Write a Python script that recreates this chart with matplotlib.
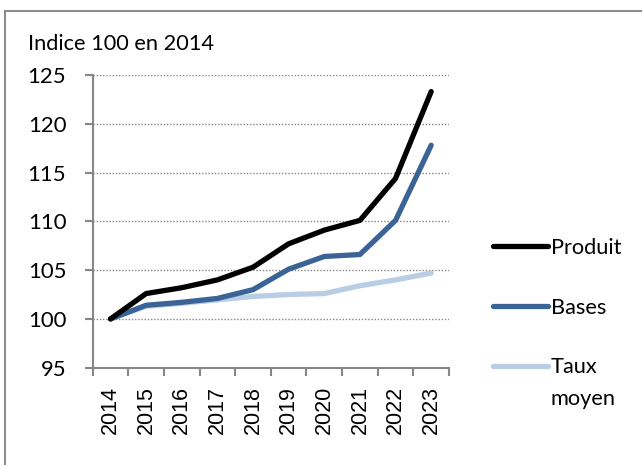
import matplotlib
matplotlib.use('Agg')
import matplotlib.pyplot as plt
from matplotlib.patches import Rectangle

# données (indice 100 en 2014)
annees = ['2014', '2015', '2016', '2017', '2018', '2019', '2020', '2021', '2022', '2023']
produit = [100, 102.6, 103.2, 104.0, 105.3, 107.7, 109.1, 110.1, 114.4, 123.3]
bases = [100, 101.4, 101.7, 102.1, 103.0, 105.1, 106.4, 106.6, 110.1, 117.8]
taux_moyen = [100, 101.3, 101.6, 101.95, 102.3, 102.5, 102.6, 103.4, 104.0, 104.7]
yticks = [95, 100, 105, 110, 115, 120, 125]

W, H = 642, 465
fig = plt.figure(figsize=(W / 100, H / 100), dpi=100)
fig.patch.set_facecolor('white')

# cadre gris (haut et gauche visibles)
fig.add_artist(Rectangle((4.5 / W, -0.2), 1.2, 1.2 - 11.5 / H,
                         transform=fig.transFigure, fill=False,
                         edgecolor='#8c8c8c', linewidth=1.5))

ax = fig.add_axes([92.7 / W, (H - 367.7) / H, (449 - 92.7) / W, (367.7 - 75) / H])

x = list(range(len(annees)))
grey = '#868686'
ax.plot(x, produit, color='black', linewidth=3.8, solid_capstyle='round',
        solid_joinstyle='round', label='Produit', zorder=5)
ax.plot(x, bases, color='#3b6496', linewidth=3.8, solid_capstyle='round',
        solid_joinstyle='round', label='Bases', zorder=4)
ax.plot(x, taux_moyen, color='#b9cde5', linewidth=3.8, solid_capstyle='round',
        solid_joinstyle='round', label='Taux', zorder=3)

ax.set_ylim(95, 125)
ax.set_xlim(-0.5, len(annees) - 0.5)
ax.set_yticks(yticks)
ax.set_yticklabels([str(v) for v in yticks], family='Lato', fontsize=15.9)

# grille pointillée
for v in yticks[1:]:
    ax.axhline(v, color=grey, linewidth=1.0, linestyle=(0, (1, 1.3)), zorder=1)

# graduations aux limites de catégories
ax.set_xticks([i - 0.5 for i in range(len(annees) + 1)])
ax.set_xticklabels([])
ax.set_xticks(x, minor=True)
ax.set_xticklabels(annees, minor=True, rotation=90, family='Liberation Sans',
                   fontsize=15.5)
ax.tick_params(axis='x', which='major', length=6, width=1.5, color=grey, direction='out')
ax.tick_params(axis='x', which='minor', length=0, pad=13)
ax.tick_params(axis='y', length=6, width=1.5, color=grey, direction='out', pad=13)

for s in ['top', 'right']:
    ax.spines[s].set_visible(False)
for s in ['left', 'bottom']:
    ax.spines[s].set_color(grey)
    ax.spines[s].set_linewidth(1.5)

fig.text(28 / W, (H - 44) / H, 'Indice 100 en 2014', ha='left', va='center',
         family='Lato', fontsize=15.7)

leg = ax.legend(loc='upper left',
                bbox_to_anchor=((493 - 92.7) / (449 - 92.7), (367.7 - 238) / (367.7 - 75)),
                frameon=False, prop={'family': 'Lato', 'size': 15.7},
                handlelength=2.5, handletextpad=0.15, labelspacing=1.82,
                borderaxespad=0, borderpad=0)

# deuxième ligne du libellé "Taux moyen"
fig.canvas.draw()
bb = leg.get_texts()[2].get_window_extent()
fig.text(bb.x0 / W, (bb.y0 - 32) / H, 'moyen', ha='left', va='bottom',
         family='Lato', fontsize=15.7)

fig.savefig('out.png', dpi=100, facecolor='white')
